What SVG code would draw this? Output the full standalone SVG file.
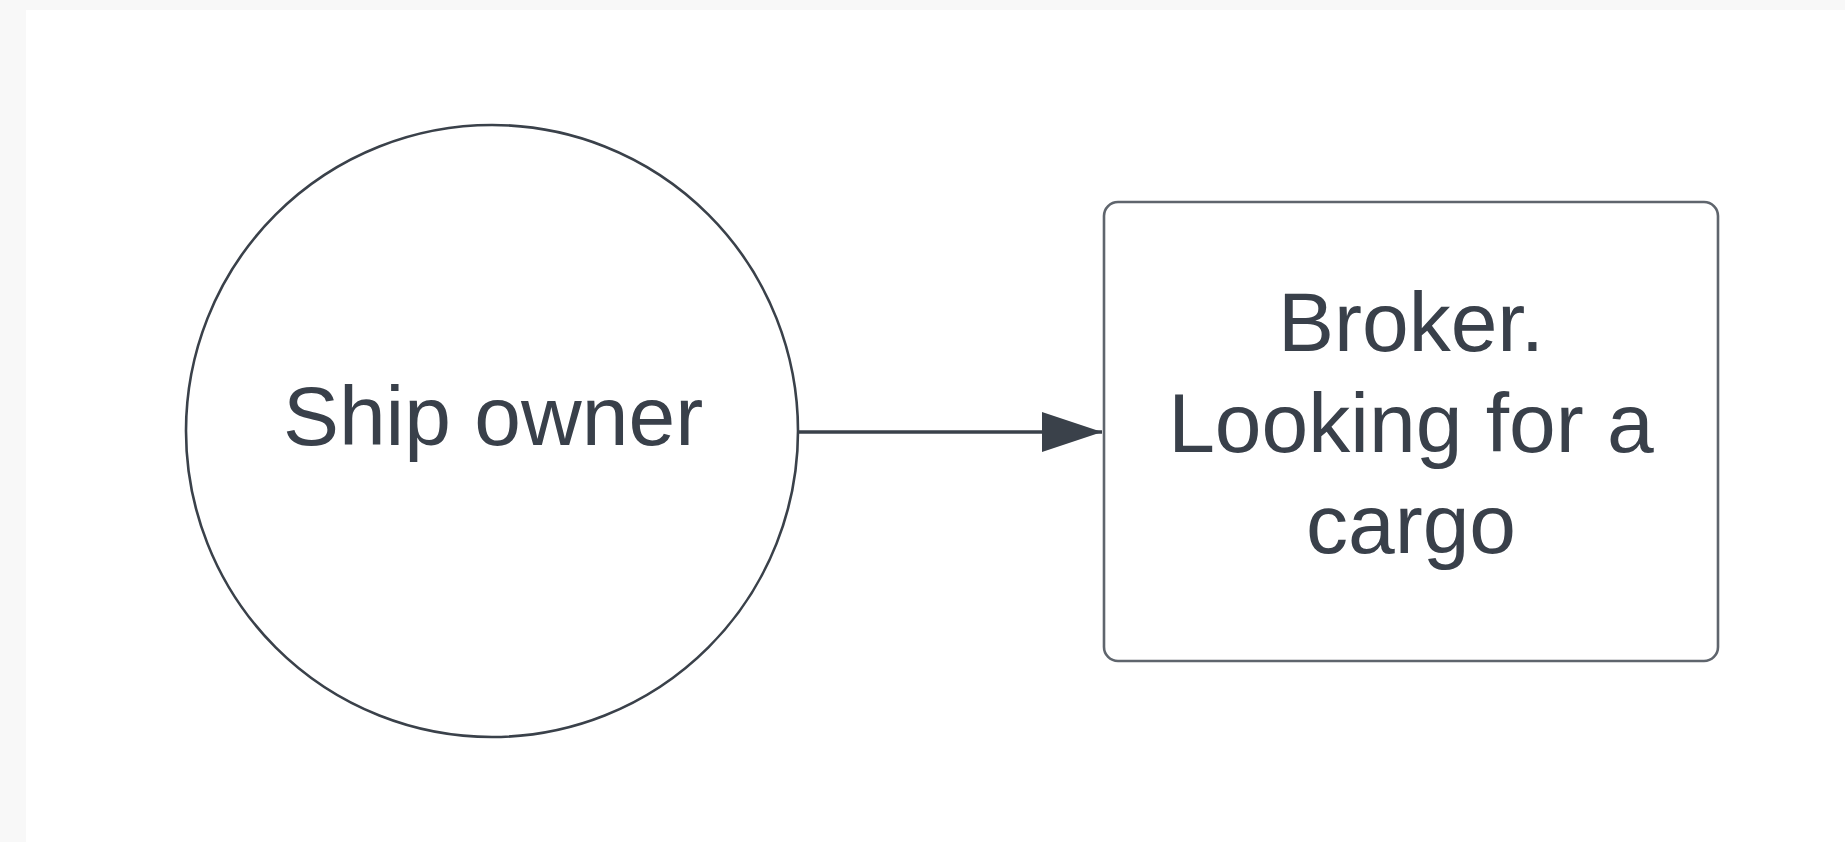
<svg xmlns="http://www.w3.org/2000/svg" width="1845" height="842" viewBox="0 0 1845 842">
  <style>
    .shape { fill: #ffffff; stroke: #3a414a; stroke-width: 2.6; }
    .label { font-family: "Liberation Sans", Arial, sans-serif; font-size: 84px; fill: #39404a; text-anchor: middle; }
    .edge { stroke: #3a414a; stroke-width: 3.5; fill: none; }
  </style>
  <defs>
    <marker id="arrowhead" markerUnits="userSpaceOnUse" markerWidth="64" markerHeight="46" refX="62" refY="22" orient="auto">
      <path d="M2,2 L62,22 L2,42 Z" fill="#3a414a"/>
    </marker>
  </defs>
  <!-- page -->
  <rect x="0" y="0" width="1845" height="842" fill="#f8f8f8"/>
  <rect x="26" y="10" width="1819" height="832" fill="#ffffff"/>

  <g id="connectors">
    <line class="edge" x1="799" y1="432" x2="1102" y2="432" marker-end="url(#arrowhead)"/>
  </g>

  <g id="ship-owner">
    <circle class="shape" cx="492" cy="431" r="306"/>
    <text class="label" x="493" y="445">Ship owner</text>
  </g>

  <g id="broker">
    <rect class="shape" x="1104" y="202" width="614" height="459" rx="14" ry="14" style="stroke:#5f656d"/>
    <text class="label" x="1411" y="351">Broker.</text>
    <text class="label" x="1411" y="452">Looking for a</text>
    <text class="label" x="1411" y="553">cargo</text>
  </g>
</svg>
